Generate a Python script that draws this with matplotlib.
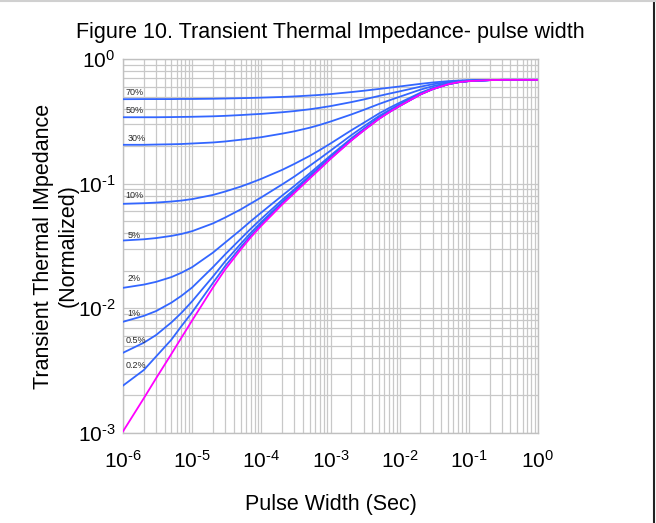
import numpy as np
import matplotlib
matplotlib.use("Agg")
import matplotlib.pyplot as plt
from matplotlib.lines import Line2D
from matplotlib.ticker import LogLocator, NullFormatter, FuncFormatter

plt.rcParams['font.family'] = ['Liberation Sans', 'DejaVu Sans']
plt.rcParams['mathtext.fontset'] = 'custom'
plt.rcParams['mathtext.rm'] = 'Liberation Sans'
plt.rcParams['mathtext.default'] = 'regular'

# pulse width (s)
pulse_width = [1e-6, 2e-6, 3e-6, 5e-6, 7e-6,
               1e-5, 2e-5, 3e-5, 5e-5, 7e-5,
               1e-4, 2e-4, 3e-4, 5e-4, 7e-4,
               1e-3, 2e-3, 3e-3, 5e-3, 7e-3,
               1e-2, 2e-2, 3e-2, 5e-2, 7e-2,
               1e-1, 2e-1, 3e-1, 5e-1, 7e-1, 1.0]

# duty cycle curves (normalized impedance)
duty_labels = ['70%', '50%', '30%', '10%', '5%', '2%', '1%', '0.5%', '0.2%']
z_70 = [0.476, 0.477, 0.477, 0.477, 0.478,
        0.478, 0.480, 0.482, 0.485, 0.487,
        0.490, 0.496, 0.501, 0.509, 0.515,
        0.523, 0.543, 0.556, 0.575, 0.588,
        0.602, 0.632, 0.648, 0.664, 0.671,
        0.676, 0.679, 0.680, 0.680, 0.680, 0.680]
z_50 = [0.341, 0.341, 0.341, 0.342, 0.343,
        0.344, 0.347, 0.350, 0.355, 0.359,
        0.363, 0.374, 0.382, 0.395, 0.406,
        0.419, 0.451, 0.473, 0.505, 0.527,
        0.550, 0.600, 0.627, 0.654, 0.666,
        0.673, 0.679, 0.680, 0.680, 0.680, 0.680]
z_30 = [0.205, 0.205, 0.206, 0.207, 0.208,
        0.210, 0.214, 0.218, 0.225, 0.230,
        0.236, 0.252, 0.263, 0.281, 0.296,
        0.315, 0.359, 0.390, 0.435, 0.465,
        0.498, 0.568, 0.605, 0.643, 0.660,
        0.670, 0.678, 0.680, 0.680, 0.680, 0.680]
z_10 = [0.0689, 0.0697, 0.0705, 0.0719, 0.0732,
        0.0752, 0.0812, 0.0865, 0.0946, 0.1013,
        0.1094, 0.129, 0.144, 0.167, 0.186,
        0.210, 0.268, 0.307, 0.365, 0.404,
        0.446, 0.536, 0.584, 0.632, 0.654,
        0.667, 0.677, 0.680, 0.680, 0.680, 0.680]
z_5 = [0.0350, 0.0358, 0.0366, 0.0381, 0.0395,
       0.0416, 0.0480, 0.0535, 0.0620, 0.0692,
       0.0777, 0.0986, 0.114, 0.139, 0.159,
       0.184, 0.245, 0.287, 0.348, 0.388,
       0.433, 0.528, 0.578, 0.630, 0.652,
       0.666, 0.677, 0.680, 0.680, 0.680, 0.680]
z_2 = [0.0146, 0.0155, 0.0163, 0.0178, 0.0193,
       0.0214, 0.0280, 0.0337, 0.0425, 0.0499,
       0.0587, 0.0802, 0.0959, 0.121, 0.142,
       0.168, 0.231, 0.274, 0.337, 0.379,
       0.425, 0.523, 0.575, 0.628, 0.652,
       0.665, 0.677, 0.680, 0.680, 0.680, 0.680]
z_1 = [0.0078, 0.0087, 0.0095, 0.0111, 0.0126,
       0.0147, 0.0214, 0.0271, 0.0360, 0.0434,
       0.0523, 0.0741, 0.0900, 0.116, 0.137,
       0.163, 0.227, 0.270, 0.334, 0.376,
       0.423, 0.522, 0.574, 0.628, 0.651,
       0.665, 0.677, 0.680, 0.680, 0.680, 0.680]
z_05 = [0.0044, 0.0053, 0.0061, 0.0077, 0.0092,
        0.0114, 0.0180, 0.0238, 0.0328, 0.0402,
        0.0492, 0.0711, 0.0870, 0.113, 0.134,
        0.161, 0.224, 0.268, 0.332, 0.375,
        0.421, 0.521, 0.574, 0.627, 0.651,
        0.665, 0.677, 0.680, 0.680, 0.680, 0.680]
z_02 = [0.0024, 0.0032, 0.0041, 0.0056, 0.0072,
        0.0093, 0.0160, 0.0218, 0.0308, 0.0383,
        0.0473, 0.0692, 0.0852, 0.111, 0.132,
        0.159, 0.223, 0.267, 0.331, 0.374,
        0.420, 0.520, 0.573, 0.627, 0.651,
        0.665, 0.677, 0.680, 0.680, 0.680, 0.680]
# single pulse
z_single = [0.00103, 0.0019, 0.00274, 0.0043, 0.00582,
            0.0080, 0.0147, 0.0205, 0.0295, 0.037,
            0.046, 0.068, 0.084, 0.110, 0.131,
            0.158, 0.222, 0.266, 0.330, 0.373,
            0.420, 0.520, 0.573, 0.627, 0.651,
            0.665, 0.677, 0.680, 0.680, 0.680, 0.680]

duty_curves = [z_70, z_50, z_30, z_10, z_5, z_2, z_1, z_05, z_02]
# label offsets in points from the curve start
label_offsets = [(1.5, 4.8), (2, 4.8), (3.5, 4.3), (2, 5.8), (3, 3.5),
                 (3, 6.8), (3, 6.0), (2, 8.6), (2, 14.4)]

BLUE = '#3366ff'
MAGENTA = '#ff00ff'


def dec_label(v, pos):
    e = int(round(np.log10(v)))
    s = str(e).replace('-', r'\text{-}')
    return r'$10^{%s}$' % s


fig = plt.figure(figsize=(6.56, 5.23), dpi=100)
ax = fig.add_axes([123 / 656, 1 - 433 / 523, (538 - 123) / 656, (433 - 59) / 523])

for z in duty_curves:
    ax.plot(pulse_width, z, color=BLUE, lw=1.3, zorder=3)
ax.plot(pulse_width, z_single, color=MAGENTA, lw=1.3, zorder=4)

for lab, z, off in zip(duty_labels, duty_curves, label_offsets):
    ax.annotate(lab, xy=(pulse_width[0], z[0]), xytext=off, textcoords='offset points',
                fontsize=6.5, color='#2a2a2a', ha='left', va='center', zorder=5)

ax.set_xscale('log')
ax.set_yscale('log')
ax.set_xlim(1e-6, 1)
ax.set_ylim(1e-3, 1)

ax.xaxis.set_major_locator(LogLocator(base=10, numticks=20))
ax.xaxis.set_minor_locator(LogLocator(base=10, subs=np.arange(2, 10), numticks=100))
ax.yaxis.set_major_locator(LogLocator(base=10, numticks=20))
ax.yaxis.set_minor_locator(LogLocator(base=10, subs=np.arange(2, 10), numticks=100))
ax.xaxis.set_major_formatter(FuncFormatter(dec_label))
ax.yaxis.set_major_formatter(FuncFormatter(dec_label))
ax.xaxis.set_minor_formatter(NullFormatter())
ax.yaxis.set_minor_formatter(NullFormatter())

ax.grid(True, which='both', color='#c8c8c8', lw=0.9, zorder=0)
ax.set_axisbelow(True)
for sp in ax.spines.values():
    sp.set_color('#c0c0c0')
    sp.set_linewidth(1.0)

ax.tick_params(which='both', length=0)
ax.tick_params(axis='x', pad=12, labelsize=15)
ax.tick_params(axis='y', pad=5.5, labelsize=15)

ax.set_title('Figure 10. Transient Thermal Impedance- pulse width', fontsize=15.5, pad=15)
ax.set_xlabel('Pulse Width (Sec)', fontsize=15.5, labelpad=16)
ax.set_ylabel('Transient Thermal IMpedance\n(Normalized)', fontsize=15.5)
ax.yaxis.set_label_coords(-0.108, 0.5)

# page frame lines
fig.add_artist(Line2D([653.5 / 656, 653.5 / 656], [0, 1], transform=fig.transFigure,
                      color='#222222', lw=1.5))
fig.add_artist(Line2D([0, 1], [1 - 0.7 / 523, 1 - 0.7 / 523], transform=fig.transFigure,
                      color='#d0d0d0', lw=1.5))

fig.savefig('out.png', dpi=100)
